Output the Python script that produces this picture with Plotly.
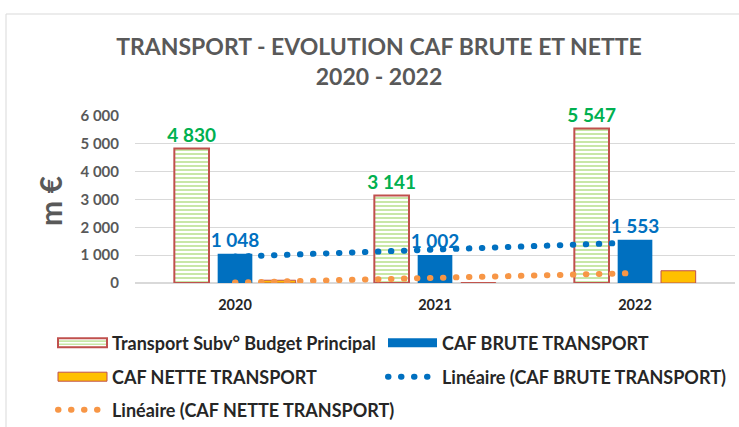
import numpy as np
import plotly.graph_objects as go

years = ["2020", "2021", "2022"]
subv_budget = [4830, 3141, 5547]
caf_brute = [1048, 1002, 1553]
caf_nette = [100, 15, 440]

name_subv = "Transport Subv° Budget Principal"
name_brute = "CAF BRUTE TRANSPORT"
name_nette = "CAF NETTE TRANSPORT"
name_lin_brute = "Linéaire (CAF BRUTE TRANSPORT)"
name_lin_nette = "Linéaire (CAF NETTE TRANSPORT)"

idx = np.arange(len(years))
def trend(vals):
    s, b = np.polyfit(idx, vals, 1)
    return list(b + s * idx)

FONT = "Lato, 'Liberation Sans', Arial, sans-serif"
GRAY = "#595959"
W, H = 739, 427
L, R, T, B = 135, 4, 116, 144
PW, PH = W - L - R, H - T - B

fig = go.Figure()
fig.add_trace(go.Bar(
    x=years, y=subv_budget, name=name_subv, legend="legend",
    marker=dict(color="white", line=dict(color="#C0504D", width=2),
                pattern=dict(shape="-", fgcolor="#92D050", bgcolor="white", size=4, solidity=0.5)),
    texttemplate="%{y:,}", textposition="outside", constraintext="none",
    textfont=dict(color="#00B050", size=19, family=FONT, weight="bold"),
))
fig.add_trace(go.Bar(
    x=years, y=caf_brute, name=name_brute, legend="legend2",
    marker=dict(color="#0070C0", line=dict(width=0)),
    texttemplate="%{y:,}", textposition="outside", constraintext="none",
    textfont=dict(color="#0070C0", size=19, family=FONT, weight="bold"),
))
fig.add_trace(go.Bar(
    x=years, y=caf_nette, name=name_nette, legend="legend3",
    marker=dict(color="#FFC000", line=dict(color="#C0504D", width=1)),
))
fig.add_trace(go.Scatter(
    x=years, y=trend(caf_brute), name=name_lin_brute, legend="legend4", mode="lines",
    line=dict(color="#0070C0", width=6, dash="0.5px,12.5px"),
))
fig.add_trace(go.Scatter(
    x=years, y=trend(caf_nette), name=name_lin_nette, legend="legend5", mode="lines",
    line=dict(color="#F79646", width=6, dash="0.5px,12.5px"),
))

leg = dict(orientation="h", xref="container", yref="container", xanchor="left", yanchor="middle",
           bgcolor="rgba(0,0,0,0)", itemwidth=55,
           font=dict(family=FONT, size=18, color="#262626", weight="bold"))

fig.update_layout(
    width=W, height=H,
    margin=dict(l=L, r=R, t=T, b=B, autoexpand=False),
    paper_bgcolor="white", plot_bgcolor="white",
    separators=", ",
    barmode="group", bargap=0.35, bargroupgap=0.2,
    title=dict(text="TRANSPORT - EVOLUTION CAF BRUTE ET NETTE<br>2020 - 2022",
               x=379 / W, xanchor="center", xref="container",
               y=1 - 55 / H, yanchor="top", yref="container",
               font=dict(family=FONT, size=23, color=GRAY, weight="bold")),
    xaxis=dict(showline=False, ticks="", showgrid=False, ticklabelstandoff=11,
               tickfont=dict(family=FONT, size=14.5, color="#262626", weight="bold")),
    yaxis=dict(range=[0, 6000], dtick=1000, tickformat=",", showgrid=True, gridcolor="#D9D9D9",
               gridwidth=1, zeroline=True, zerolinecolor="#D9D9D9", showline=False, ticks="",
               ticklabelstandoff=15,
               tickfont=dict(family=FONT, size=15, color=GRAY, weight="bold")),
    showlegend=True,
    legend=dict(leg, x=47 / W, y=1 - 343 / H),
    legend2=dict(leg, x=377 / W, y=1 - 343 / H),
    legend3=dict(leg, x=47 / W, y=1 - 377 / H),
    legend4=dict(leg, x=377 / W, y=1 - 377 / H),
    legend5=dict(leg, x=47 / W, y=1 - 410 / H),
    annotations=[dict(text="m €", textangle=-90, xref="paper", yref="paper",
                      x=(50 - L) / PW, y=(H - B - 201) / PH, xanchor="center", yanchor="middle",
                      showarrow=False, font=dict(family=FONT, size=30, color=GRAY, weight="bold"))],
    shapes=[dict(type="rect", xref="paper", yref="paper", x0=(6 - L) / PW, x1=1.5,
                 y0=-2, y1=(H - B - 14) / PH, line=dict(color="#D9D9D9", width=1),
                 fillcolor="rgba(0,0,0,0)", layer="below")],
)
fig.update_traces(cliponaxis=False, selector=dict(type="bar"))

post = """
document.body.style.margin='0';
var fix=function(){
 document.querySelectorAll('.scatterlayer .js-line').forEach(function(p){p.style.strokeLinecap='round';});
 document.querySelectorAll('.legendlines path').forEach(function(p){
   p.style.strokeLinecap='round'; p.style.strokeWidth='6px'; p.style.strokeDasharray='0.5px,12.5px';
   p.setAttribute('d','M11,0h40');});
 document.querySelectorAll('.legendpoints path').forEach(function(p){var d=p.getAttribute('d')||''; if(d.indexOf('M6,6H-6V-6H6Z')===0){p.setAttribute('d','M27.5,4.5H-21.5V-4.5H27.5Z');}});
};
fix(); var gd=document.getElementsByClassName('plotly-graph-div')[0]; if(gd&&gd.on){gd.on('plotly_afterplot',fix);}
"""
fig.write_html("out.html", post_script=post, config={"displayModeBar": False})
